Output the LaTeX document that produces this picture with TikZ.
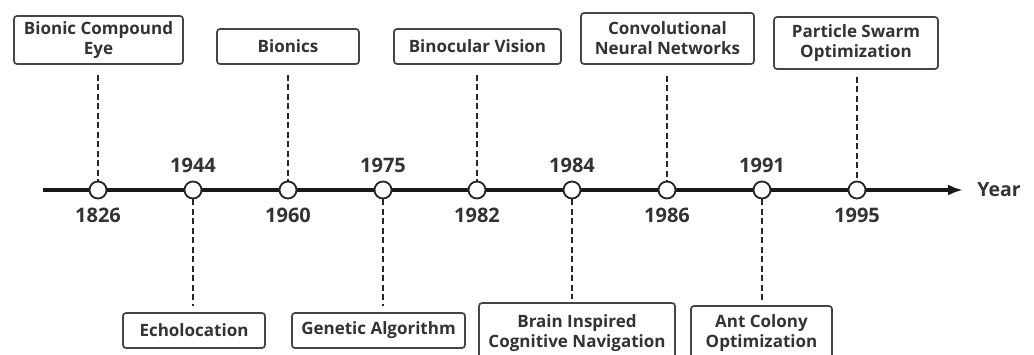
\documentclass[tikz,border=0pt]{standalone}
\usepackage{fontspec}
\setmainfont{Open Sans}[BoldFont={Open Sans Bold}]
\usetikzlibrary{arrows.meta}
\definecolor{txt}{HTML}{333333}
\definecolor{boxc}{HTML}{444444}
\begin{document}
\begin{tikzpicture}[x=1pt,y=-1pt,
  evbox/.style={draw=boxc, line width=1.7pt, rounded corners=3pt, fill=white,
    font=\bfseries\fontsize{17}{20}\selectfont, text=txt, align=center, inner sep=0pt},
  dot/.style={circle, draw=black!85, line width=1.8pt, fill=white, minimum size=17pt, inner sep=0pt},
  yr/.style={font=\bfseries\fontsize{20}{24}\selectfont, text=txt, inner sep=0pt},
  lead/.style={dash pattern=on 6pt off 3.5pt, line width=2.6pt, draw=black!85},
  axisline/.style={line width=3.4pt, draw=black!90, -{Latex[length=15pt,width=11pt]}}]
\useasboundingbox (0,0) rectangle (1034,354);
% axis
\coordinate (ax0) at (43,190);
\coordinate (ax1) at (963,190);
\draw[axisline] (ax0) -- (ax1);
\node[yr, font=\bfseries\fontsize{19.5}{22}\selectfont] (year) at (999,190) {Year};
% dots
\node[dot] (d1826) at (98,190) {};
\node[dot] (d1944) at (193,190) {};
\node[dot] (d1960) at (288,190) {};
\node[dot] (d1975) at (383,190) {};
\node[dot] (d1982) at (477,190) {};
\node[dot] (d1984) at (572,190) {};
\node[dot] (d1986) at (667,190) {};
\node[dot] (d1991) at (762,190) {};
\node[dot] (d1995) at (857,190) {};
% year labels
\node[yr] (y1826) at (98,215) {1826};
\node[yr] (y1944) at (193,165) {1944};
\node[yr] (y1960) at (288,215) {1960};
\node[yr] (y1975) at (383,165) {1975};
\node[yr] (y1982) at (477,215) {1982};
\node[yr] (y1984) at (572,165) {1984};
\node[yr] (y1986) at (667,215) {1986};
\node[yr] (y1991) at (762,165) {1991};
\node[yr] (y1995) at (857,215) {1995};
% top boxes
\node[evbox, minimum width=169pt, minimum height=48pt] (bce) at (98.5,40) {Bionic Compound\\Eye};
\node[evbox, minimum width=142pt, minimum height=35pt] (bio) at (288,46.5) {Bionics};
\node[evbox, minimum width=167pt, minimum height=35pt] (bin) at (477.5,46.5) {Binocular Vision};
\node[evbox, minimum width=173pt, minimum height=51pt] (cnn) at (667.5,38.5) {Convolutional\\Neural Networks};
\node[evbox, minimum width=164pt, minimum height=52pt] (pso) at (856,43) {Particle Swarm\\Optimization};
% bottom boxes
\node[evbox, minimum width=142pt, minimum height=35pt] (echo) at (194,330.5) {Echolocation};
\node[evbox, minimum width=173pt, minimum height=35pt] (gen) at (378.5,330.5) {Genetic Algorithm};
\node[evbox, minimum width=196pt, minimum height=60pt] (brain) at (577,333) {Brain Inspired\\Cognitive Navigation};
\node[evbox, minimum width=141pt, minimum height=54pt] (ant) at (761.5,333) {Ant Colony\\Optimization};
% leaders (top)
\draw[lead] ([yshift=-10pt]bce.south -| d1826) -- (d1826.north);
\draw[lead] ([yshift=-10pt]bio.south -| d1960) -- (d1960.north);
\draw[lead] ([yshift=-10pt]bin.south -| d1982) -- (d1982.north);
\draw[lead] ([yshift=-11pt]cnn.south -| d1986) -- (d1986.north);
\draw[lead] ([yshift=-7pt]pso.south -| d1995) -- (d1995.north);
% leaders (bottom)
\draw[lead] (d1944.south) -- ([yshift=6pt]echo.north -| d1944);
\draw[lead] (d1975.south) -- ([yshift=6pt]gen.north -| d1975);
\draw[lead] (d1984.south) -- ([yshift=3pt]brain.north -| d1984);
\draw[lead] (d1991.south) -- ([yshift=3pt]ant.north -| d1991);
\end{tikzpicture}
\end{document}
